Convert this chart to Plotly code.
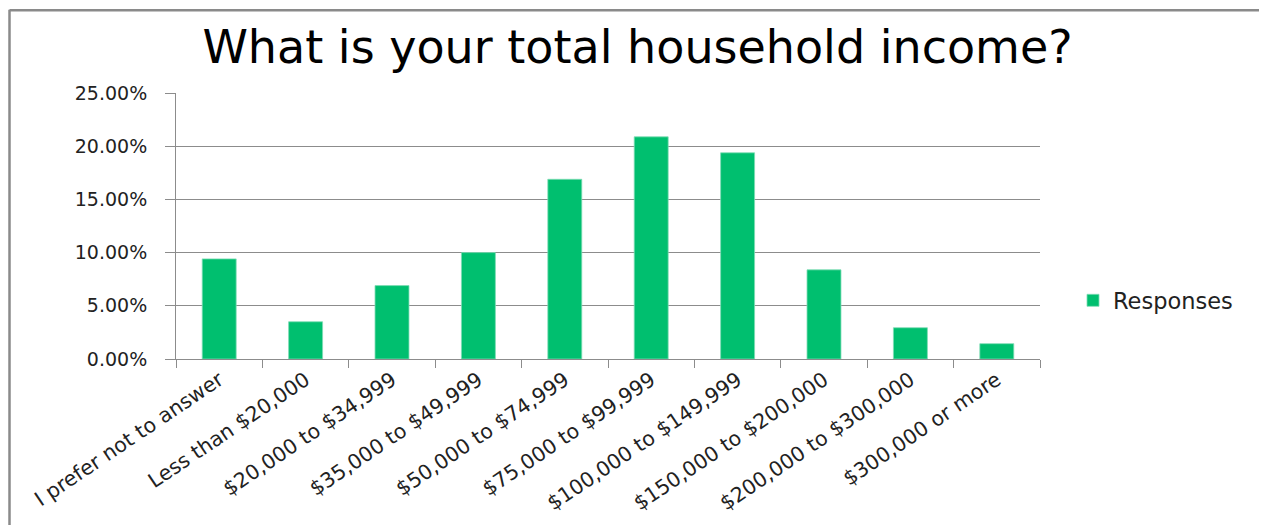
import plotly.graph_objects as go

categories = [
    "I prefer not to answer",
    "Less than $20,000",
    "$20,000 to $34,999",
    "$35,000 to $49,999",
    "$50,000 to $74,999",
    "$75,000 to $99,999",
    "$100,000 to $149,999",
    "$150,000 to $200,000",
    "$200,000 to $300,000",
    "$300,000 or more",
]
responses = [0.0941, 0.0350, 0.0690, 0.1000, 0.1689, 0.2088, 0.1938, 0.0838, 0.0294, 0.0144]
series_name = "Responses"
title_text = "What is your total household income?"

# page body adds an 8px offset; work in screen pixels and convert
OFF = 8
W, H = 1259, 517
L, R, T, B = 176 - OFF, 1040 - OFF, 93.3 - OFF, 359.3 - OFF
pw, ph = R - L, B - T


def px(x):
    return (x - OFF - L) / pw


def py(y):
    return (B - (y - OFF)) / ph


fig = go.Figure()
fig.add_trace(go.Bar(
    x=categories,
    y=responses,
    name=series_name,
    marker=dict(color="#00BF6F", line=dict(color="#7fdcb5", width=0.8)),
    showlegend=True,
))

grid = "#8c8c8c"
ytick_font = dict(family="DejaVu Sans", size=19, color="#222222")
xtick_font = dict(family="DejaVu Sans", size=20.5, color="#222222")

fig.update_layout(
    width=W,
    height=H,
    margin=dict(l=L, r=W - R, t=T, b=H - B, autoexpand=False),
    paper_bgcolor="white",
    plot_bgcolor="white",
    bargap=0.607,
    title=dict(
        text=title_text,
        font=dict(family="DejaVu Sans", size=46, color="#000000"),
        x=px(637.5), xref="paper", xanchor="center",
        y=1 - (47 - OFF) / H, yref="container", yanchor="middle",
    ),
    showlegend=True,
    legend=dict(
        x=px(1073), xanchor="left",
        y=py(301), yanchor="middle",
        font=dict(family="DejaVu Sans", size=22.5, color="#222222"),
        bgcolor="rgba(0,0,0,0)",
    ),
    xaxis=dict(
        type="category",
        showline=True, linecolor=grid, linewidth=1,
        ticks="outside", tickson="boundaries", ticklen=8, tickcolor=grid,
        tickangle=-34,
        tickfont=xtick_font,
        showgrid=False,
        automargin=False,
    ),
    yaxis=dict(
        range=[0, 0.25],
        dtick=0.05,
        tickformat=".2%",
        showline=True, linecolor=grid, linewidth=1,
        ticks="outside", ticklen=10, tickcolor=grid,
        showgrid=True, gridcolor=grid, gridwidth=1,
        zeroline=False,
        tickfont=ytick_font,
        ticklabelstandoff=14,
        automargin=False,
    ),
)

# outer chart-area frame (left/top darker, right faint)
fig.add_shape(type="line", xref="paper", yref="paper",
              x0=px(9.5), x1=px(9.5), y0=py(545), y1=py(10),
              line=dict(color="#8a8a8a", width=2.5))
fig.add_shape(type="line", xref="paper", yref="paper",
              x0=px(9.5), x1=px(1266), y0=py(10.5), y1=py(10.5),
              line=dict(color="#8a8a8a", width=2.5))
fig.add_shape(type="line", xref="paper", yref="paper",
              x0=px(1266), x1=px(1266), y0=py(545), y1=py(10),
              line=dict(color="#dddddd", width=1))

fig.write_html("out.html")
